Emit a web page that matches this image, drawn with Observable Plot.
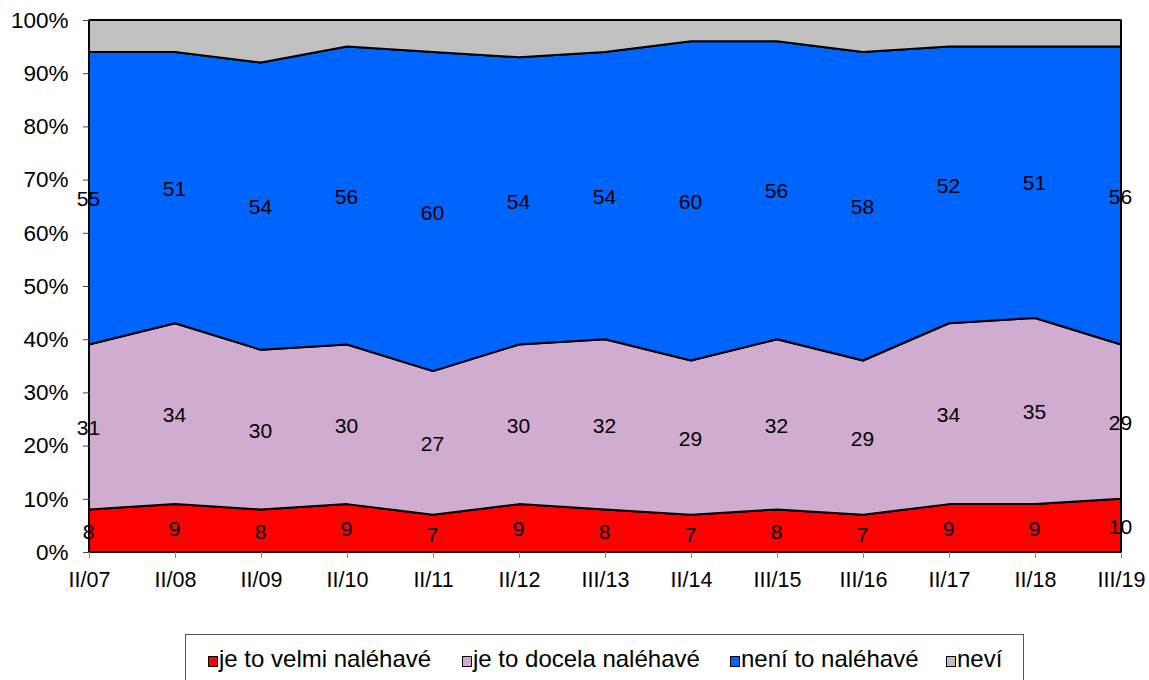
<!DOCTYPE html>
<html><head><meta charset="utf-8">
<script src="https://cdn.jsdelivr.net/npm/d3@7"></script>
<script src="https://cdn.jsdelivr.net/npm/@observablehq/plot@0.6"></script>
<style>
body{margin:0;background:#fff;font-family:"Liberation Sans",Arial,sans-serif;}
#wrap{position:relative;width:1149px;height:680px;overflow:hidden;}
#legend{position:absolute;left:185px;top:634px;width:839px;height:60px;border:1px solid #555;box-sizing:border-box;font-family:"Liberation Sans",Arial,sans-serif;font-size:24px;color:#000;}
.it{position:absolute;top:12px;height:24px;line-height:24px;white-space:nowrap;}
.sw{position:absolute;left:0;top:9px;width:8px;height:9px;border:1.5px solid #000;}
.it span{position:absolute;left:11px;top:0;}
</style></head><body>
<div id="wrap"><div id="chart"></div><div id="legend"></div></div>
<script>
const categories = ["II/07","II/08","II/09","II/10","II/11","II/12","III/13","II/14","III/15","III/16","II/17","II/18","III/19"];
const seriesNames = ["je to velmi naléhavé","je to docela naléhavé","není to naléhavé","neví"];
const velmi  = [8,9,8,9,7,9,8,7,8,7,9,9,10];
const docela = [31,34,30,30,27,30,32,29,32,29,34,35,29];
const neni   = [55,51,54,56,60,54,54,60,56,58,52,51,56];
const nevi   = [6,6,8,5,6,7,6,4,4,6,5,5,5];
const yTicks = [0,10,20,30,40,50,60,70,80,90,100];
const colors = ["#FF0000","#D0ACD0","#0064FF","#C0C0C0"];

const seriesValues = [velmi, docela, neni, nevi];
const data = [];
seriesNames.forEach((s, si) => categories.forEach((c, ci) => data.push({cat: c, series: s, value: seriesValues[si][ci]})));
const labelData = data.filter(d => d.series !== "neví");

const chart = Plot.plot({
  width: 1149, height: 600,
  marginLeft: 90, marginRight: 29, marginTop: 20, marginBottom: 48,
  style: {fontFamily: '"Liberation Sans", Arial, sans-serif', fontSize: "22px", color: "#000", background: "#fff"},
  x: {type: "point", domain: categories, padding: 0, range: [85, 1125], label: null},
  y: {domain: [0, 100], label: null},
  color: {domain: seriesNames, range: colors},
  marks: [
    Plot.areaY(data, {x: "cat", y: "value", z: "series", fill: "series", order: seriesNames, stroke: "#000", strokeWidth: 2, strokeLinejoin: "miter"}),
    Plot.text(labelData, Plot.stackY({x: "cat", y: "value", z: "series", order: seriesNames, text: d => String(d.value), fontSize: 21, fill: "#000", dy: 1, dx: -1})),
    Plot.axisY({ticks: yTicks, tickFormat: d => d + "%", tickSize: 7, tickPadding: 15, stroke: "#444", fontSize: 22.5}),
    Plot.axisX({tickSize: 6, tickPadding: 13, stroke: "#888", fontSize: 21.5})
  ]
});
document.getElementById("chart").appendChild(chart);

const lg = document.getElementById("legend");
const legendLeft = [208, 462, 730, 946];
seriesNames.forEach((s, i) => {
  const it = document.createElement("div"); it.className = "it"; it.style.left = (legendLeft[i] - 186) + "px";
  const sw = document.createElement("div"); sw.className = "sw"; sw.style.background = colors[i];
  const t = document.createElement("span"); t.textContent = s;
  it.appendChild(sw); it.appendChild(t); lg.appendChild(it);
});
</script>
</body></html>
